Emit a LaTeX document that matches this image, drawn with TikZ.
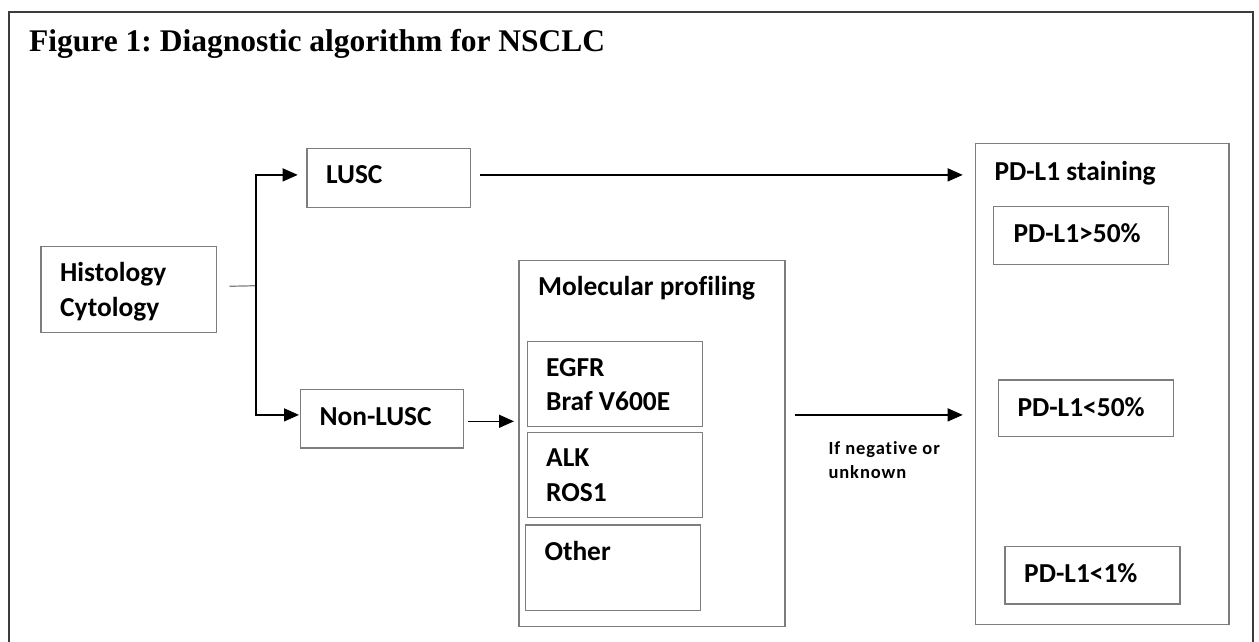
\documentclass[tikz,border=0pt]{standalone}
\usepackage{fontspec}
\setmainfont{Liberation Serif}
\newfontfamily\calfont{Carlito}[Ligatures={NoCommon}]
\usetikzlibrary{arrows.meta}
\definecolor{boxgray}{RGB}{125,125,125}
\definecolor{framegray}{RGB}{60,60,60}
\frenchspacing
\begin{document}
\begin{tikzpicture}[x=1pt,y=-1pt,
  box/.style={draw=boxgray, line width=1.2pt, inner sep=0pt, anchor=north west},
  lbl/.style={anchor=base west, inner sep=0pt, font=\calfont\bfseries\fontsize{27.4}{32}\selectfont},
  smalllbl/.style={anchor=base west, inner sep=0pt, font=\calfont\bfseries\fontsize{18.5}{22}\selectfont\addfontfeatures{LetterSpace=5}},
  arr/.style={line width=1.3pt, -{Triangle[length=15pt,width=13pt]}},
]
\useasboundingbox (0,0) rectangle (1259,642);
\fill[white] (0,0) rectangle (1259,642);
\draw[line width=2pt, draw=framegray] (9,642) -- (9,11.7) -- (1253,11.7) -- (1253,642);

% title
\node[anchor=base west, inner sep=0pt, font=\bfseries\fontsize{31.5}{36}\selectfont] (title) at (29,52) {Figure 1: Diagnostic algorithm for NSCLC};

% boxes
\node[box, minimum width=175.4pt, minimum height=85.7pt] (hist) at (40.3,246) {};
\node[box, minimum width=163.4pt, minimum height=59pt] (lusc) at (306.3,147.7) {};
\node[box, minimum width=163.3pt, minimum height=58.3pt] (nonlusc) at (299.7,389) {};
\node[box, minimum width=266pt, minimum height=365.7pt] (mol) at (518.3,260) {};
\node[box, minimum width=175pt, minimum height=85.3pt] (egfr) at (526.7,340.7) {};
\node[box, minimum width=175pt, minimum height=85pt] (alk) at (526.7,431.7) {};
\node[box, minimum width=175pt, minimum height=85.7pt] (other) at (525,524.3) {};
\node[box, minimum width=253.3pt, minimum height=481.3pt] (pd) at (975,142.7) {};
\node[box, minimum width=175pt, minimum height=58pt] (pdhigh) at (992.7,206) {};
\node[box, minimum width=175pt, minimum height=56.7pt] (pdmid) at (997.7,379.3) {};
\node[box, minimum width=175pt, minimum height=57.3pt] (pdlow) at (1004.3,546) {};

% texts
\node[lbl] (thist1) at (60,281.7) {Histology};
\node[lbl] (thist2) at (60,316.7) {Cytology};
\node[lbl] (tlusc) at (326,183.3) {LUSC};
\node[lbl] (tnonlusc) at (319.3,425) {Non-LUSC};
\node[lbl] (tmol) at (538,295) {Molecular profiling};
\node[lbl] (tegfr) at (546,376) {EGFR};
\node[lbl] (tbraf) at (546,410.7) {Braf V600E};
\node[lbl] (talk) at (546,466) {ALK};
\node[lbl] (tros) at (546,501) {ROS1};
\node[lbl] (tother) at (544.3,560.7) {Other};
\node[smalllbl] (tneg1) at (828.3,454) {If negative or};
\node[smalllbl] (tneg2) at (828.3,478) {unknown};
\node[lbl] (tpd) at (994.3,180) {PD-L1 staining};
\node[lbl] (tpdhigh) at (1013.3,242.7) {PD-L1>50\%};
\node[lbl] (tpdmid) at (1017.3,416) {PD-L1<50\%};
\node[lbl] (tpdlow) at (1024,582.7) {PD-L1<1\%};

% connectors
\coordinate (split) at (256,285.7);
\draw[line width=1.2pt, draw=boxgray] ([shift={(12.6,-3.15)}]hist.east) -- (split);
\draw[arr, shorten >=8.6pt] (split) |- ([yshift=2.9pt]lusc.west);
\draw[arr, shorten >=0.7pt] (split) |- ([yshift=3.85pt]nonlusc.west);
\draw[arr, shorten <=9.3pt, shorten >=12.3pt] ([yshift=2.9pt]lusc.east) -- ([yshift=2.9pt]lusc.east -| pd.west);
\draw[arr, shorten <=3.7pt, shorten >=4.3pt] ([yshift=-2.55pt]nonlusc.east) -- ([yshift=-2.55pt]nonlusc.east -| mol.west);
\draw[arr, shorten <=9.7pt, shorten >=12.3pt] ([yshift=28.55pt]mol.east) -- ([yshift=28.55pt]mol.east -| pd.west);
\end{tikzpicture}
\end{document}
